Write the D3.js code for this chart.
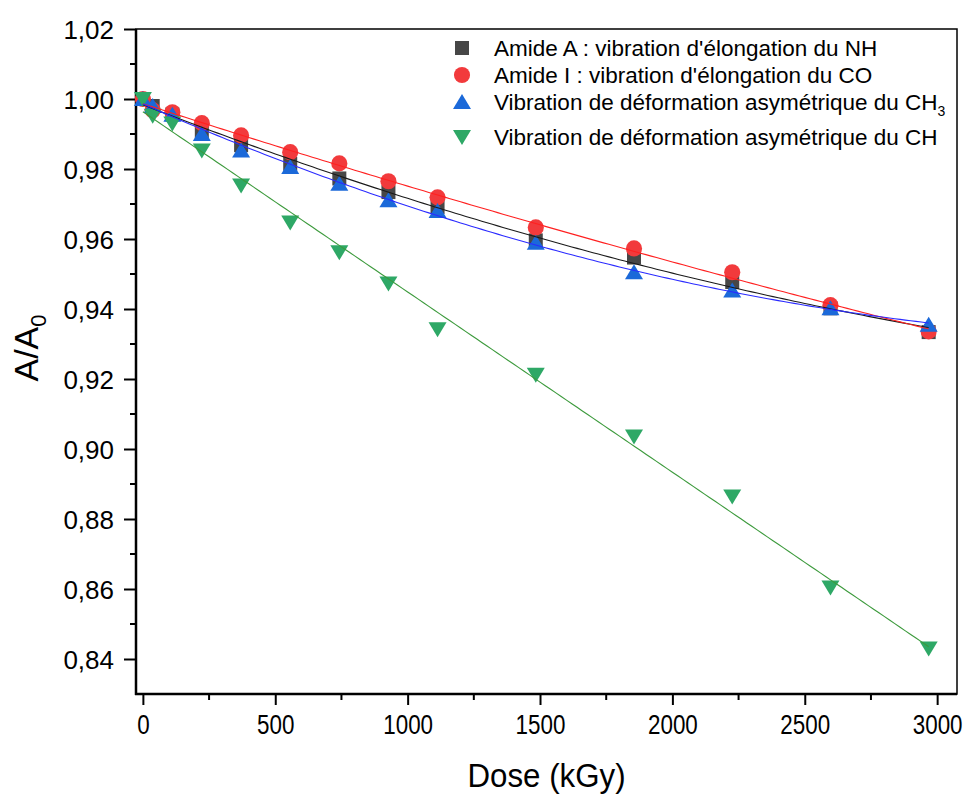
<!DOCTYPE html>
<html>
<head>
<meta charset="utf-8">
<script src="https://cdn.jsdelivr.net/npm/d3@7"></script>
<style>
  html, body { margin: 0; padding: 0; background: #fff; }
  svg { display: block; font-family: "Liberation Sans", Arial, sans-serif; }
</style>
</head>
<body>
<svg id="chart" width="970" height="796"></svg>
<script>
// ---- data ----
const dose = [0, 37.1, 111.3, 222.6, 371, 556.5, 742, 927.5, 1113, 1484, 1855, 2226, 2597, 2968];
const amideA = [1.000, 0.9980, 0.9956, 0.9908, 0.9868, 0.9815, 0.9773, 0.9734, 0.9691, 0.9596, 0.9547, 0.9477, 0.9402, 0.9334];
const amideI = [1.000, 0.9968, 0.9962, 0.9931, 0.9896, 0.9848, 0.9816, 0.9765, 0.9719, 0.9633, 0.9573, 0.9505, 0.9411, 0.9336];
const ch3    = [1.000, 0.9980, 0.9955, 0.9900, 0.9853, 0.9806, 0.9758, 0.9711, 0.9680, 0.9589, 0.9505, 0.9453, 0.9402, 0.9355];
const ch     = [1.000, 0.9952, 0.9930, 0.9853, 0.9753, 0.9647, 0.9562, 0.9473, 0.9342, 0.9212, 0.9036, 0.8864, 0.8604, 0.8430];
const seriesNames = [
  "Amide A : vibration d'élongation du NH",
  "Amide I : vibration d'élongation du CO",
  "Vibration de déformation asymétrique du CH",
  "Vibration de déformation asymétrique du CH"
];
const xTicks = [0, 500, 1000, 1500, 2000, 2500, 3000];
const yTicks = [0.84, 0.86, 0.88, 0.90, 0.92, 0.94, 0.96, 0.98, 1.00, 1.02];
const xTitle = "Dose (kGy)";

// ---- setup ----
const svg = d3.select("#chart");
const L = 136, R = 957, T = 29, B = 694;
const x = d3.scaleLinear().domain([-26, 3075]).range([L, R]);
const y = d3.scaleLinear().domain([0.83, 1.02]).range([B, T]);

const series = [
  {vals: amideA, fill: "#474747", line: "#1a1a1a", shape: "square", fit: 2},
  {vals: amideI, fill: "#f23a3c", line: "#ff2020", shape: "circle", fit: 2},
  {vals: ch3,    fill: "#1b69d9", line: "#2a2aff", shape: "up",     fit: 2},
  {vals: ch,     fill: "#2ea866", line: "#3c9a3c", shape: "down",   fit: 1}
];

function markerPath(shape) {
  if (shape === "square") return "M-7,-7H7V7H-7Z";
  if (shape === "circle") return d3.symbol(d3.symbolCircle, 205)();
  if (shape === "up") return "M0,-8L9,7H-9Z";
  return "M0,8L9,-7H-9Z";
}

// polynomial least squares fit of the plotted points
function polyFit(xs, ys, deg) {
  const n = deg + 1;
  const A = Array.from({length: n}, () => new Array(n + 1).fill(0));
  for (let k = 0; k < xs.length; k++) {
    const xv = xs[k] / 1000;
    for (let i = 0; i < n; i++) {
      for (let j = 0; j < n; j++) A[i][j] += Math.pow(xv, i + j);
      A[i][n] += ys[k] * Math.pow(xv, i);
    }
  }
  for (let i = 0; i < n; i++) {
    let p = i;
    for (let r = i + 1; r < n; r++) if (Math.abs(A[r][i]) > Math.abs(A[p][i])) p = r;
    [A[i], A[p]] = [A[p], A[i]];
    for (let r = 0; r < n; r++) {
      if (r === i) continue;
      const f = A[r][i] / A[i][i];
      for (let c = i; c <= n; c++) A[r][c] -= f * A[i][c];
    }
  }
  const coef = A.map((row, i) => row[n] / row[i]);
  return xv => coef.reduce((s, c, i) => s + c * Math.pow(xv / 1000, i), 0);
}

// ---- axes ----
const xMinor = d3.range(250, 3000, 500);
const yMinor = d3.range(0.85, 1.02, 0.02);

const gx = svg.append("g").attr("transform", `translate(0,${B})`);
gx.call(d3.axisBottom(x).tickValues(xTicks).tickSize(11).tickSizeOuter(0).tickFormat(d3.format("d")))
  .call(g => g.select(".domain").remove());
gx.selectAll(".tick line").attr("stroke", "#000").attr("stroke-width", 2);
gx.selectAll(".tick text")
  .attr("font-size", 28).attr("fill", "#000").attr("y", 0).attr("dy", 0)
  .attr("transform", "translate(0,40) scale(0.8,1)");
gx.selectAll(".minor").data(xMinor).enter().append("line")
  .attr("x1", d => x(d)).attr("x2", d => x(d)).attr("y1", 0).attr("y2", 6)
  .attr("stroke", "#000").attr("stroke-width", 2);

const gy = svg.append("g").attr("transform", `translate(${L},0)`);
gy.call(d3.axisLeft(y).tickValues(yTicks).tickSize(12).tickSizeOuter(0)
    .tickFormat(d => d3.format(".2f")(d).replace(".", ",")))
  .call(g => g.select(".domain").remove());
gy.selectAll(".tick line").attr("stroke", "#000").attr("stroke-width", 2);
gy.selectAll(".tick text").attr("font-size", 26).attr("fill", "#000").attr("x", -22).attr("dy", "0.36em");
gy.selectAll(".minor").data(yMinor).enter().append("line")
  .attr("x1", -6).attr("x2", 0).attr("y1", d => y(d)).attr("y2", d => y(d))
  .attr("stroke", "#000").attr("stroke-width", 2);

// frame
svg.append("rect").attr("x", L).attr("y", T).attr("width", R - L).attr("height", B - T)
  .attr("fill", "none").attr("stroke", "#000").attr("stroke-width", 1.5);
svg.append("line").attr("x1", L).attr("x2", L).attr("y1", T).attr("y2", B + 1).attr("stroke", "#000").attr("stroke-width", 2.5);
svg.append("line").attr("x1", L - 1).attr("x2", R).attr("y1", B).attr("y2", B).attr("stroke", "#000").attr("stroke-width", 2.5);

// titles
svg.append("text").attr("x", (L + R) / 2).attr("y", 787).attr("text-anchor", "middle")
  .attr("font-size", 34).attr("fill", "#000")
  .attr("transform", `translate(${(L + R) / 2 * 0.08},0) scale(0.92,1)`).text(xTitle);
const yt = svg.append("text").attr("transform", "translate(38,348) rotate(-90)")
  .attr("text-anchor", "middle").attr("font-size", 34).attr("fill", "#000");
yt.append("tspan").text("A/A");
yt.append("tspan").attr("font-size", 22).attr("dy", 8).text("0");

// ---- markers ----
series.forEach(s => {
  svg.append("g").selectAll("path").data(dose).enter().append("path")
    .attr("d", markerPath(s.shape))
    .attr("transform", (d, i) => `translate(${x(d)},${y(s.vals[i])})`)
    .attr("fill", s.fill);
});

// ---- fit lines ----
const line = d3.line().x(d => x(d[0])).y(d => y(d[1]));
series.forEach(s => {
  const f = polyFit(dose, s.vals, s.fit);
  const xs = d3.range(0, 2968, 20).concat([2968]);
  svg.append("path").datum(xs.map(v => [v, f(v)]))
    .attr("d", line).attr("fill", "none").attr("stroke", s.line).attr("stroke-width", 1.1);
});

// ---- legend ----
const legY = [48, 75, 102, 137];
const lg = svg.append("g");
series.forEach((s, i) => {
  lg.append("path").attr("d", markerPath(s.shape))
    .attr("transform", `translate(462,${legY[i]})`).attr("fill", s.fill);
  const t = lg.append("text").attr("x", 494).attr("y", legY[i] + 8)
    .attr("font-size", 22.5).attr("fill", "#000").text(seriesNames[i]);
  if (i === 2) t.append("tspan").attr("font-size", 14).attr("dy", 6).text("3");
});
</script>
</body>
</html>
